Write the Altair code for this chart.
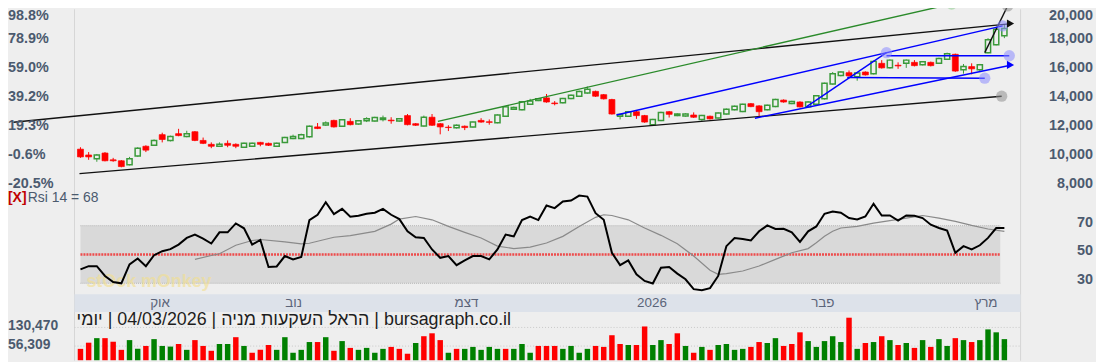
import altair as alt
import pandas as pd

# ---------------- data ----------------
opens = [10400,10000,9733,10133,9667,9600,9333,9933,10600,10667,
         11400,11000,11467,11267,11600,11000,10733,10600,10800,10733,
         10533,10600,10867,10800,10600,10867,11133,11133,11247,11933,
         12067,12380,11980,12313,12133,12353,12333,12447,12400,12333,
         12713,12153,12000,12600,12153,11913,11867,11980,11933,12380,
         12287,12220,12667,13153,13113,13487,13753,13933,13580,13600,
         13887,14047,14267,14380,14153,13820,12667,12667,12980,12713,
         12087,12380,12980,12713,12687,12753,12447,12667,12553,12820,
         13113,13000,13533,13380,13113,13333,13780,13553,13647,13313,
         13487,13867,14887,15467,15667,15380,15713,15600,16313,16000,
         16180,16313,16380,16220,16380,16313,16600,16933,15867,16087,
         15867,17047,17600,18220]
closes = [9867,9867,10000,9600,9600,9200,9733,10467,10333,11000,
          11067,11267,11333,11467,11000,10800,10600,10733,10667,10600,
          10800,10800,10733,10667,10800,11200,11267,11400,11980,11822,
          12200,11933,12420,12087,12353,12487,12580,12553,12353,12487,
          12087,12047,12600,12047,11933,11887,12047,11887,12267,12267,
          12247,12753,13313,13267,13667,13713,13867,13647,13533,13887,
          14113,14380,14533,14047,13867,12820,12780,12980,12713,12267,
          12447,12933,12800,12820,12820,12600,12713,12487,12887,13153,
          13353,13487,13333,12980,13420,13820,13647,13687,13313,13647,
          14087,14933,15600,15713,15447,15647,15513,16447,16000,16533,
          16133,16533,16153,16420,16153,16647,16980,15780,16087,15933,
          16220,17933,18667,18713]
highs = [10533,10200,10067,10200,9800,9650,9867,10533,10667,11067,
         11533,11333,11800,11667,11650,11200,10867,10867,11000,10800,
         10850,10850,10900,10850,10850,11250,11400,11467,12030,12200,
         12313,12430,12470,12533,12400,12600,12630,12713,12600,12530,
         12820,12200,12713,12820,12200,12047,12100,12030,12300,12533,
         12447,12800,13360,13330,13720,13867,13920,14200,13713,13930,
         14160,14430,14713,14430,14200,13870,12830,13030,13030,12760,
         12490,12980,13030,12870,12870,12933,12760,12713,12930,13200,
         13400,13530,13580,13430,13470,13870,13830,13730,13700,13700,
         14130,14980,15713,15760,15820,15690,15760,16500,16533,16580,
         16380,16580,16533,16470,16430,16700,17047,16980,16267,16313,
         16270,18047,18720,18980]
lows = [9800,9667,9533,9560,9533,9150,9280,9880,10200,10620,
        10867,10933,11290,11220,10950,10750,10467,10550,10533,10467,
        10480,10550,10600,10620,10550,10820,11090,11090,11200,11780,
        12000,11890,11930,12040,12090,12267,12290,12313,12153,12290,
        12040,12000,11950,12000,11420,11647,11820,11713,11890,12220,
        12087,12180,12620,13100,13070,13440,13710,13600,13420,13550,
        13840,14000,14220,14000,13820,12780,12447,12620,12487,12220,
        12040,12330,12580,12670,12640,12550,12353,12440,12510,12780,
        13070,12950,13290,12600,13070,13290,13600,13500,13270,13270,
        13440,13820,14840,15420,15400,15113,15470,15550,15950,15950,
        15933,16000,16100,16170,16100,16270,16550,15730,15600,15553,
        15713,17000,17550,18047]

volumes = [45200,69800,87900,87900,73600,41300,80100,45200,56800,84000,
           56800,54300,64600,41300,80100,56800,37500,64600,64600,91700,
           56800,29700,41300,60700,41300,91700,29700,41300,72400,72400,
           91700,37500,76200,49100,41300,49100,29700,45200,53000,45200,
           25800,68500,95600,107200,80100,29700,45200,45200,53000,41300,
           53000,45200,45200,45200,64600,29700,56800,
           56800,56800,45200,56800,29700,45200,56800,53000,99500,64600,
           60700,60700,134400,60700,80100,64600,107200,56800,29700,53000,
           41300,60700,64600,41300,45200,53000,72400,68500,87900,56800,
           64600,111100,76200,53000,76200,95600,72400,169300,45200,68500,
           72400,95600,80100,60700,68500,49100,80100,53000,84000,56800,
           87900,80100,72400,80100,122700,111100,84000]
vol_up = [0,0,1,0,0,0,1,1,0,1,1,1,0,1,0,0,0,1,1,0,1,0,0,0,1,1,1,1,1,0,
          1,0,1,0,1,1,1,1,0,0,0,1,0,0,0,1,0,1,1,1,1,1,0,1,1,1,0,
          0,0,1,1,1,1,0,0,0,0,1,0,0,1,1,0,0,1,0,1,0,1,1,1,1,0,0,1,1,0,
          0,0,1,1,1,1,1,0,1,0,1,0,1,0,1,0,1,0,1,1,0,1,0,1,1,1,1]

rsi = [39.7,41.9,41.9,35.1,30.9,30.0,43.1,47.2,41.9,49.5,
       52.3,53.7,56.9,61.5,63.8,61.0,57.6,65.4,65.4,71.6,
       68.2,56.9,60.1,41.3,41.7,48.9,46.6,48.2,73.9,77.6,
       86.3,78.0,81.7,76.2,76.9,78.3,79.0,81.7,77.6,74.6,
       66.1,62.0,61.5,53.5,47.7,48.9,42.6,45.9,48.9,48.9,
       46.6,53.5,63.8,62.6,73.9,76.4,73.9,84.0,82.2,86.8,
       87.5,90.9,90.2,78.7,74.1,51.2,42.6,45.9,36.2,31.6,
       29.8,40.8,41.3,36.7,32.8,25.9,25.2,26.6,35.1,55.8,
       61.5,60.8,59.7,66.1,70.2,67.7,67.9,65.4,58.7,66.1,
       69.5,78.3,79.9,79.0,75.3,74.4,76.4,85.2,77.1,77.1,
       73.5,77.1,76.9,75.3,70.7,68.4,66.6,51.2,55.8,53.5,
       56.4,61.5,68.4,68.4]
ma_idx = [14,16,17,19,21,22,25,27,28,31,33,36,38,39,41,43,45,47,49,51,
          53,55,57,59,61,63,64,65,67,69,71,73,75,77,78,79,81,83,85,87,
          89,90,91,92,93,95,97,99,101,103,105,107,109,111,113]
ma_val = [46.6,49.3,50.5,56.4,59.7,60.4,58.7,57.4,57.8,62.0,63.1,66.1,71.1,74.6,76.4,74.1,69.5,65.4,61.5,55.8,
          54.1,55.1,58.0,62.6,69.5,75.8,77.6,77.1,74.1,68.4,63.3,57.4,48.9,39.0,36.2,36.7,38.5,42.0,46.6,51.2,
          54.1,58.1,62.6,66.1,68.4,69.5,71.8,73.5,75.3,77.1,75.3,73.0,70.2,67.7,66.1]

price_ticks = [20000, 18000, 16000, 14000, 12000, 10000, 8000]
price_labels = ["20,000", "18,000", "16,000", "14,000", "12,000", "10,000", "8,000"]
pct_labels = ["98.8%", "78.9%", "59.0%", "39.2%", "19.3%", "-0.6%", "-20.5%"]
rsi_ticks = [70, 50, 30]
vol_ticks = [130470, 56309]
vol_labels = ["130,470", "56,309"]
months = ["אוק", "נוב", "דצמ", "2026", "פבר", "מרץ"]
month_pos = [9.73, 26.07, 47.2, 69.9, 90.8, 110.75]

# drawn trend lines (index, price) -> (index, price)
seg_x1 = [-8.2, -0.12, 43.72, 110.6, 65.55, 82.49, 88.77, 98.58, 93.78]
seg_p1 = [12250, 8713, 12313, 17047, 12753, 12533, 13313, 16833, 15333]
seg_x2 = [113.9, 112.67, 106.55, 113.4, 112.78, 113.9, 98.58, 113.6, 110.6]
seg_p2 = [19050, 14047, 20400, 20267, 18887, 16200, 17047, 16833, 15287]
seg_col = ["#111111", "#111111", "#2a8a2a", "#111111", "#0000ff", "#0000ff", "#0000ff", "#0000ff", "#0000ff"]
dot_x = [112.67, 106.55, 113.4, 112.78, 98.58, 113.6, 110.6]
dot_p = [14047, 20400, 20267, 18887, 17047, 16833, 15287]
dot_col = ["#8f8f8f", "#8fcc8f", "#8f8f8f", "#8c8cff", "#8c8cff", "#8c8cff", "#8c8cff"]
arr_x = [113.75, 113.75]
arr_p = [19050, 16200]
arr_col = ["#111111", "#0000ff"]

title_text = "יומי\u200e | 04/03/2026 | הראל השקעות מניה\u200e | bursagraph.co.il"

# ---------------- styling ----------------
RED = "#ff0000"
GREEN = "#3a9a3a"
VGREEN = "#008000"
BG = "#eeeeee"
LBL = "#4b5a6e"
FONT = "Liberation Sans"

N = len(opens)
idx = list(range(N))

xs = alt.Scale(domain=[0, 113], range=[68, 1008.7], nice=False, zero=False)
ps = alt.Scale(domain=[8000, 20000], range=[176, 0.5], nice=False, zero=False)
rs = alt.Scale(domain=[30, 70], range=[276, 218], nice=False, zero=False)
vs = alt.Scale(domain=[0, 130470], range=[353.5, 320.5], nice=False, zero=False)


def X(f="i"):
    return alt.X(f"{f}:Q", scale=xs, axis=None)


def PY(f):
    return alt.Y(f"{f}:Q", scale=ps, axis=None)


def RY(f):
    return alt.Y(f"{f}:Q", scale=rs, axis=None)


def VY(f):
    return alt.Y(f"{f}:Q", scale=vs, axis=None)


one = pd.DataFrame({"a": [0]})

cdf = pd.DataFrame({"i": idx, "o": opens, "c": closes, "h": highs, "l": lows})
cdf["col"] = [GREEN if c >= o else RED for o, c in zip(opens, closes)]
vdf = pd.DataFrame({"i": idx, "v": volumes, "v0": [0] * N,
                    "col": [VGREEN if u else RED for u in vol_up]})
rdf = pd.DataFrame({"i": idx, "r": rsi})
mdf = pd.DataFrame({"i": ma_idx, "r": ma_val})
sdf = pd.DataFrame({"x1": seg_x1, "p1": seg_p1, "x2": seg_x2, "p2": seg_p2, "col": seg_col})
ddf = pd.DataFrame({"i": dot_x, "p": dot_p, "col": dot_col})
adf = pd.DataFrame({"i": arr_x, "p": arr_p, "col": arr_col})
pdf = pd.DataFrame({"p": price_ticks, "lab": price_labels, "pct": pct_labels})
pdf_top = pdf.iloc[:1]
pdf_rest = pdf.iloc[1:]
rtdf = pd.DataFrame({"r": rsi_ticks, "lab": [str(t) for t in rsi_ticks]})
vtdf = pd.DataFrame({"v": vol_ticks, "lab": vol_labels})
mthdf = pd.DataFrame({"pos": month_pos, "m": months})
banddf = pd.DataFrame({"x0": [0], "x1": [112.5], "lo": [30], "hi": [70]})
bandl = pd.DataFrame({"x0": [0, 0], "x1": [112.5, 112.5], "r": [70, 30]})
midl = pd.DataFrame({"x0": [0], "x1": [112.5], "r": [50]})

layers = []

# frame lines
layers.append(alt.Chart(one).mark_rule(color="#d6d6d6", strokeWidth=1).encode(
    x=alt.value(67), y=alt.value(0), y2=alt.value(354)))
layers.append(alt.Chart(one).mark_rule(color="#d6d6d6", strokeWidth=1).encode(
    x=alt.value(1020), y=alt.value(0), y2=alt.value(354)))

# RSI panel background band and guide lines
layers.append(alt.Chart(banddf).mark_rect(color="#d9d9d9").encode(
    x=X("x0"), x2="x1:Q", y=RY("lo"), y2="hi:Q"))
layers.append(alt.Chart(bandl).mark_rule(color="#b4b4b4", strokeDash=[1, 1], strokeWidth=1).encode(
    x=X("x0"), x2="x1:Q", y=RY("r")))
layers.append(alt.Chart(midl).mark_rule(color="#ef3b3b", strokeDash=[2, 1], strokeWidth=2.4, opacity=0.9).encode(
    x=X("x0"), x2="x1:Q", y=RY("r")))

# watermark
layers.append(alt.Chart(pd.DataFrame({"t": ["stOck mOnkey"]})).mark_text(
    font=FONT, fontSize=18, fontWeight="bold", color="#f3df8c", opacity=0.6, align="center", baseline="middle"
).encode(x=alt.value(142), y=alt.value(275), text="t:N"))

# RSI lines
layers.append(alt.Chart(mdf).mark_line(color="#8a8a8a", strokeWidth=1.2).encode(x=X(), y=RY("r")))
layers.append(alt.Chart(rdf).mark_line(color="#000000", strokeWidth=2).encode(x=X(), y=RY("r")))

# month band
layers.append(alt.Chart(one).mark_rect(color="#dde2ea").encode(
    x=alt.value(67), x2=alt.value(1020), y=alt.value(287), y2=alt.value(305)))
layers.append(alt.Chart(mthdf).mark_text(font=FONT, fontSize=13.5, color="#5b6479", baseline="middle").encode(
    x=X("pos"), y=alt.value(296), text="m:N"))

# volume grid and bars
layers.append(alt.Chart(vtdf).mark_rule(color="#c9c9c9", strokeDash=[1, 2], strokeWidth=1).encode(
    x=alt.value(67), x2=alt.value(1020), y=VY("v")))
layers.append(alt.Chart(vdf).mark_bar(width=5.5).encode(
    x=X(), y=VY("v"), y2="v0:Q", color=alt.Color("col:N", scale=None)))

# candles
layers.append(alt.Chart(cdf).mark_rule(strokeWidth=1).encode(
    x=X(), y=PY("l"), y2="h:Q", color=alt.Color("col:N", scale=None)))
layers.append(alt.Chart(cdf[cdf["col"] == RED]).mark_bar(width=6, fill=RED, stroke=RED, strokeWidth=0.7).encode(
    x=X(), y=PY("o"), y2="c:Q"))
layers.append(alt.Chart(cdf[cdf["col"] == GREEN]).mark_bar(width=5.2, fill=BG, stroke=GREEN, strokeWidth=1.5).encode(
    x=X(), y=PY("o"), y2="c:Q"))

# trend lines, end circles, arrows
layers.append(alt.Chart(sdf).mark_rule(strokeWidth=1.4).encode(
    x=X("x1"), x2="x2:Q", y=PY("p1"), y2="p2:Q", color=alt.Color("col:N", scale=None)))
layers.append(alt.Chart(ddf).mark_circle(size=130, opacity=0.55).encode(
    x=X(), y=PY("p"), color=alt.Color("col:N", scale=None)))
layers.append(alt.Chart(adf).mark_point(shape="triangle-right", filled=True, size=70, opacity=1).encode(
    x=X(), y=PY("p"), color=alt.Color("col:N", scale=None)))

# axis-like labels (top tick nudged down so it is not cut by the edge)
for sub, dy in ((pdf_rest, 0), (pdf_top, 6)):
    layers.append(alt.Chart(sub).mark_text(font=FONT, fontSize=14.5, fontWeight="bold", color=LBL,
                                           align="right", baseline="middle", dy=dy).encode(
        x=alt.value(1093), y=PY("p"), text="lab:N"))
    layers.append(alt.Chart(sub).mark_text(font=FONT, fontSize=14.5, fontWeight="bold", color=LBL,
                                           align="left", baseline="middle", dy=dy).encode(
        x=alt.value(0), y=PY("p"), text="pct:N"))
layers.append(alt.Chart(rtdf).mark_text(font=FONT, fontSize=14.5, fontWeight="bold", color=LBL,
                                        align="right", baseline="middle", dy=-3).encode(
    x=alt.value(1093), y=RY("r"), text="lab:N"))
layers.append(alt.Chart(vtdf).mark_text(font=FONT, fontSize=14, fontWeight="bold", color=LBL,
                                        align="left", baseline="middle", dy=-1).encode(
    x=alt.value(0), y=VY("v"), text="lab:N"))
layers.append(alt.Chart(pd.DataFrame({"t": ["[X]"]})).mark_text(
    font=FONT, fontSize=14, fontWeight="bold", color="#c00000", align="left", baseline="middle").encode(
    x=alt.value(0), y=alt.value(190), text="t:N"))
layers.append(alt.Chart(pd.DataFrame({"t": ["Rsi 14 = 68"]})).mark_text(
    font=FONT, fontSize=14, color=LBL, align="left", baseline="middle").encode(
    x=alt.value(20), y=alt.value(190), text="t:N"))
layers.append(alt.Chart(pd.DataFrame({"t": [title_text]})).mark_text(
    font=FONT, fontSize=18, color="#1e1e1e", align="left", baseline="middle").encode(
    x=alt.value(69), y=alt.value(312.7), text="t:N"))

chart = alt.layer(*layers).resolve_scale(y="independent").properties(
    width=1096, height=354, padding=0,
    autosize=alt.AutoSizeParams(type="none"),
    background=BG,
).configure_view(stroke=None, fill=BG)

chart.save("out.html", embed_options={"renderer": "svg", "actions": False})
